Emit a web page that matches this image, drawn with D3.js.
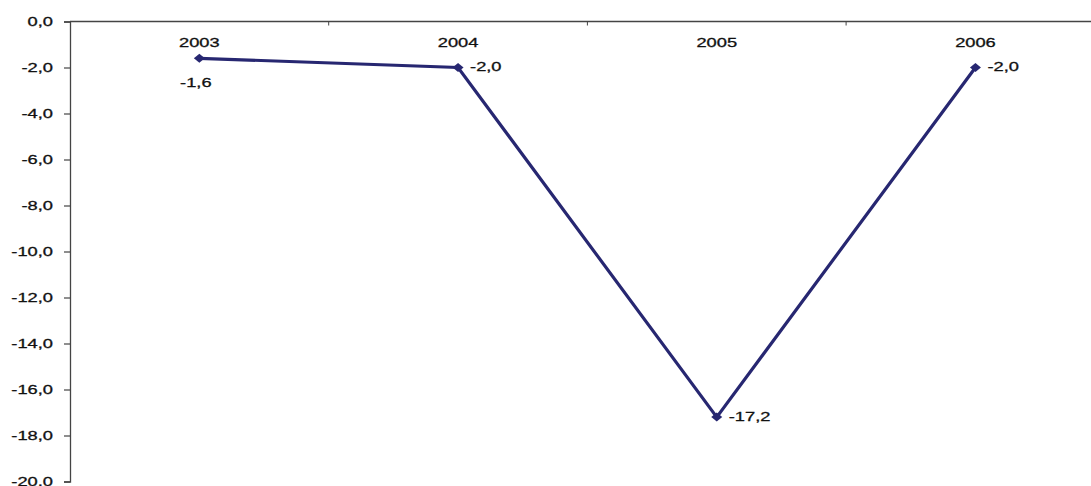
<!DOCTYPE html>
<html>
<head>
<meta charset="utf-8">
<script src="https://cdn.jsdelivr.net/npm/d3@7"></script>
<style>
  html, body { margin: 0; padding: 0; background: #fff; }
  svg { display: block; }
  text { font-family: "Liberation Sans", Arial, sans-serif; font-size: 12.6px; fill: #111;
         stroke: #111; stroke-width: 0.3px; }
</style>
</head>
<body>
<svg id="chart" width="1091" height="486"></svg>
<script>
// Yearly values
const years = ["2003", "2004", "2005", "2006"];
const values = [-1.6, -2.0, -17.2, -2.0];
const yTicks = [0, -2, -4, -6, -8, -10, -12, -14, -16, -18, -20];
// where each value label sits relative to its point
const labelSide = ["below", "right", "right", "right"];

(function () {
const svg = d3.select("#chart");
const plotLeft = 70, plotTop = 21.5, plotBottom = 481.5;
const band = 258.7;
const wide = "scale(1.45,1)"; // wide lettering used throughout

const x = d3.scaleBand().domain(years).range([plotLeft, plotLeft + band * years.length]);
const y = d3.scaleLinear().domain([0, -20]).range([plotTop, plotBottom]);

const fmt = v => d3.format(".1f")(v).replace(".", ",").replace("−", "-");

// Y axis on the left
const yAxis = d3.axisLeft(y).tickValues(yTicks).tickSize(6).tickPadding(6).tickFormat(fmt);
const gy = svg.append("g").attr("transform", `translate(${plotLeft},0)`).call(yAxis);
gy.select(".domain").attr("stroke", "#444").attr("stroke-width", 1.3);
gy.selectAll(".tick line").attr("stroke", "#444").attr("stroke-width", 1.2);
gy.selectAll(".tick text")
  .attr("x", 0)
  .attr("transform", `translate(-17,0) ${wide}`)
  .attr("font-size", 12.6).attr("fill", "#111")
  .attr("font-family", "Liberation Sans, Arial, sans-serif");

// Category axis along the zero line, with ticks between categories
const gx = svg.append("g").attr("transform", `translate(0,${plotTop})`);
gx.append("line").attr("x1", plotLeft).attr("x2", 1091).attr("stroke", "#444").attr("stroke-width", 1.3);
gx.selectAll("line.sep").data(years.slice(1)).join("line")
  .attr("class", "sep")
  .attr("x1", d => x(d)).attr("x2", d => x(d))
  .attr("y1", 0).attr("y2", 4)
  .attr("stroke", "#444");
gx.selectAll("text.cat").data(years).join("text")
  .attr("class", "cat")
  .attr("transform", d => `translate(${x(d) + x.bandwidth() / 2},25) ${wide}`)
  .attr("text-anchor", "middle")
  .text(d => d);

const data = years.map((yr, i) => ({ yr, v: values[i], side: labelSide[i] }));
const cx = d => x(d.yr) + x.bandwidth() / 2;

// Series line
svg.append("path")
  .datum(data)
  .attr("fill", "none")
  .attr("stroke", "#272771")
  .attr("stroke-width", 3.2)
  .attr("stroke-linejoin", "miter")
  .attr("d", d3.line().x(cx).y(d => y(d.v)));

// Diamond markers
svg.selectAll("path.mk").data(data).join("path")
  .attr("class", "mk")
  .attr("transform", d => `translate(${cx(d)},${y(d.v)})`)
  .attr("d", "M0,-4.5L5.5,0L0,4.5L-5.5,0Z")
  .attr("fill", "#272771");

// Value labels
svg.selectAll("text.val").data(data).join("text")
  .attr("class", "val")
  .attr("transform", d => d.side === "below"
    ? `translate(${cx(d) - 3.5},${y(d.v) + 29}) ${wide}`
    : `translate(${cx(d) + 12},${y(d.v) + 3.5}) ${wide}`)
  .attr("text-anchor", d => d.side === "below" ? "middle" : "start")
  .text(d => fmt(d.v));
})();
</script>
</body>
</html>
